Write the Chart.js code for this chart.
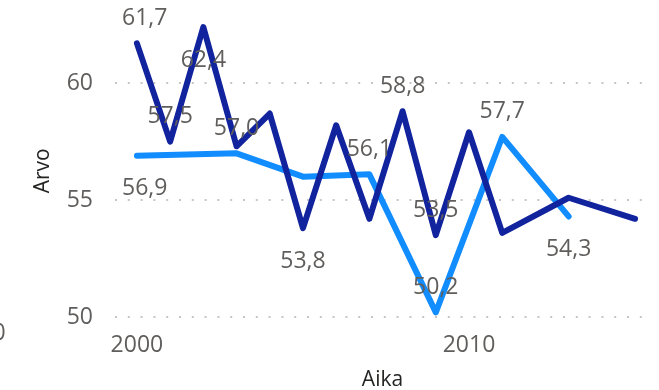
<!DOCTYPE html>
<html>
<head>
<meta charset="utf-8">
<script src="https://cdn.jsdelivr.net/npm/chart.js@4.4.0/dist/chart.umd.min.js"></script>
<style>
  html, body { margin: 0; padding: 0; background: #fff; }
  #wrap { width: 659px; height: 390px; position: relative; }
</style>
</head>
<body>
<div id="wrap"><canvas id="c" width="659" height="390"></canvas></div>
<script>
// Data
const darkYears   = [2000, 2001, 2002, 2003, 2004, 2005, 2006, 2007, 2008, 2009, 2010, 2011, 2013, 2015];
const darkValues  = [61.7, 57.5, 62.4, 57.3, 58.7, 53.8, 58.2, 54.2, 58.8, 53.5, 57.9, 53.6, 55.1, 54.2];
const lightYears  = [2000, 2003, 2005, 2007, 2009, 2011, 2013];
const lightValues = [56.9, 57.0, 56.0, 56.1, 50.2, 57.7, 54.3];
// which points carry a data label: 'a' above, 'b' below, '' none
const darkLabels  = ['a', 'a', 'b', '', '', 'b', '', '', 'a', 'a', '', '', '', ''];
const lightLabels = ['b', 'a', '', 'a', 'a', 'a', 'b'];
const yTicks = [50, 55, 60];
const xTicks = [2000, 2010];
const xTitle = 'Aika';
const yTitle = 'Arvo';

const FONT = "'Segoe UI', 'Open Sans', sans-serif";
const DARK = '#12239E';
const LIGHT = '#118DFF';
const GRAY = '#605E5C';

function fmt(v) { return v.toFixed(1).replace('.', ','); }

const labelPlugin = {
  id: 'labels',
  afterDatasetsDraw(chart) {
    const ctx = chart.ctx;
    const xs = chart.scales.x, ys = chart.scales.y;
    ctx.save();
    ctx.font = "23px " + FONT;
    ctx.fillStyle = GRAY;
    ctx.textAlign = 'center';
    ctx.textBaseline = 'middle';
    const sets = [[darkYears, darkValues, darkLabels], [lightYears, lightValues, lightLabels]];
    sets.forEach(([yrs, vals, lab]) => {
      yrs.forEach((yr, i) => {
        if (!lab[i]) return;
        let px = xs.getPixelForValue(yr);
        const py = ys.getPixelForValue(vals[i]);
        const txt = fmt(vals[i]);
        const w = ctx.measureText(txt).width;
        const minX = chart.chartArea.left + w / 2 + 7;
        if (px < minX) px = minX;
        const dy = lab[i] === 'a' ? -25 : 33;
        ctx.fillText(txt, px, py + dy);
      });
    });
    // clipped label of a neighbouring visual at the left edge
    ctx.fillText('0', -1, 333);
    ctx.restore();
  }
};

new Chart(document.getElementById('c'), {
  type: 'line',
  data: {
    datasets: [
      {
        data: darkYears.map((x, i) => ({ x, y: darkValues[i] })),
        borderColor: DARK, backgroundColor: DARK,
        borderWidth: 6, pointRadius: 0, borderCapStyle: 'round', borderJoinStyle: 'round',
        tension: 0
      },
      {
        data: lightYears.map((x, i) => ({ x, y: lightValues[i] })),
        borderColor: LIGHT, backgroundColor: LIGHT,
        borderWidth: 6, pointRadius: 0, borderCapStyle: 'round', borderJoinStyle: 'round',
        tension: 0
      }
    ]
  },
  options: {
    responsive: false,
    animation: false,
    events: [],
    layout: { padding: { top: 13, left: 0, right: 9, bottom: 0 } },
    plugins: { legend: { display: false }, tooltip: { enabled: false } },
    scales: {
      x: {
        type: 'linear',
        min: 1999.34, max: 2015.45,
        afterBuildTicks(s) { s.ticks = xTicks.map(v => ({ value: v })); },
        afterFit(s) { s.height = 61.3; s.paddingLeft = 0; s.paddingRight = 0; },
        grid: { display: false, drawTicks: false },
        border: { display: false },
        ticks: {
          color: GRAY, padding: 3, maxRotation: 0,
          font: { family: FONT, size: 23 },
          callback: v => String(v)
        },
        title: {
          display: true, text: xTitle, color: '#252423',
          font: { family: FONT, size: 21 }, padding: { top: 0, bottom: -3 }
        }
      },
      y: {
        min: 49.5, max: 63,
        afterBuildTicks(s) { s.ticks = yTicks.map(v => ({ value: v })); },
        afterFit(s) { s.width = 115; s.paddingTop = 0; s.paddingBottom = 0; },
        grid: {
          color: '#C8C6C4', lineWidth: 2, drawTicks: false
        },
        border: { display: false, dash: [2, 10.8] },
        ticks: {
          color: GRAY, padding: 22,
          font: { family: FONT, size: 23 },
          callback: v => String(v)
        },
        title: {
          display: true, text: yTitle, color: '#252423',
          font: { family: FONT, size: 21 }, padding: { top: 30, bottom: 0 }
        }
      }
    }
  },
  plugins: [labelPlugin]
});
</script>
</body>
</html>
